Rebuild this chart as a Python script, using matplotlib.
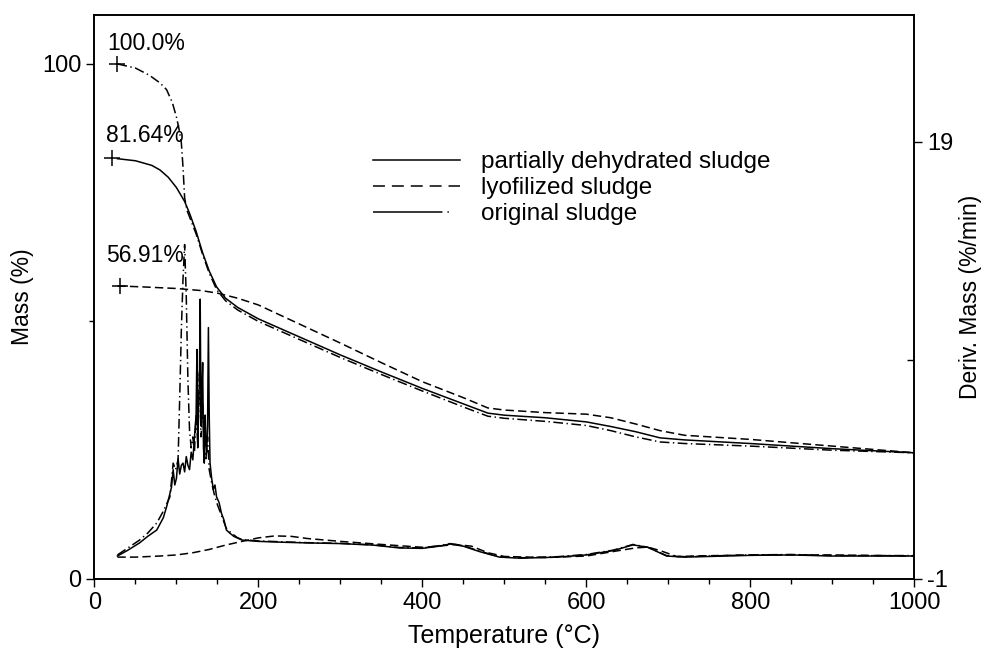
import matplotlib
matplotlib.use("Agg")
import matplotlib.pyplot as plt
from matplotlib.lines import Line2D
from matplotlib.ticker import MultipleLocator, FixedLocator

plt.rcParams["font.family"] = ["Liberation Sans", "DejaVu Sans"]
plt.rcParams["font.size"] = 16.5
plt.rcParams["lines.scale_dashes"] = False
plt.rcParams["axes.unicode_minus"] = False

# --- mass curves (left axis, %) ---
t_partial = [28, 50, 70, 80, 90, 100, 110, 116, 124, 132, 140, 149, 160, 175, 200, 250,
             300, 350, 400, 450, 480, 500, 550, 600, 630, 660, 690, 720, 800, 900, 1000]
m_partial = [81.6, 81.2, 80.3, 79.4, 78.0, 76.0, 73.3, 71.0, 67.5, 63.3, 59.8, 56.7, 54.5, 52.7, 50.5, 47.0,
             43.5, 40.2, 37.0, 34.0, 32.2, 31.8, 31.3, 30.5, 29.6, 28.6, 27.4, 27.0, 26.3, 25.3, 24.5]

t_lyo = [28, 60, 100, 130, 150, 175, 200, 250, 300, 350, 400, 450, 480, 500, 550, 600,
         630, 660, 690, 720, 800, 900, 1000]
m_lyo = [56.9, 56.7, 56.4, 56.0, 55.5, 54.5, 53.2, 49.5, 45.8, 42.0, 38.3, 35.2, 33.2, 32.8, 32.3, 32.0,
         31.3, 30.1, 28.8, 27.9, 27.1, 25.8, 24.5]

t_orig = [28, 50, 67, 80, 88, 95, 100, 103, 106, 108, 110, 113, 116, 124, 132, 140, 149, 160, 175, 200,
          250, 300, 350, 400, 450, 480, 500, 550, 600, 630, 660, 690, 720, 800, 900, 1000]
m_orig = [100.0, 99.2, 97.8, 96.3, 95.0, 92.5, 89.7, 87.5, 84.7, 80.0, 74.0, 71.5, 70.3, 67.0, 63.0, 59.4,
          56.2, 54.0, 52.2, 50.0, 46.5, 43.0, 39.7, 36.5, 33.4, 31.6, 31.2, 30.6, 29.8, 28.8, 27.6, 26.6,
          26.3, 25.8, 25.0, 24.5]

# --- derivative curves (right axis, %/min) ---
td_partial = [28, 40, 55, 65, 76, 84, 88, 92, 94, 96, 98, 100, 102, 104, 106, 108, 110, 112, 114, 116,
              118, 120, 122, 124, 125, 126, 127, 128, 129, 130, 131, 132, 133, 134, 135, 136, 137, 138,
              139, 140, 141, 143, 145, 147, 149, 152, 155, 158, 161, 165, 170, 174, 180, 200, 230, 260,
              300, 340, 372, 400, 420, 434, 450, 470, 494, 520, 565, 600, 633, 657, 675, 698, 720, 800,
              850, 900, 950, 1000]
d_partial = [0.05, 0.3, 0.65, 0.95, 1.24, 1.8, 2.3, 2.9, 3.2, 4.0, 3.3, 3.6, 4.5, 3.8, 4.2, 4.3, 3.9, 4.6,
             4.2, 4.0, 4.8, 4.45, 5.5, 6.5, 9.5, 5.0, 7.0, 8.0, 11.8, 6.0, 7.5, 8.9, 5.0, 4.3, 6.5, 5.2,
             4.8, 6.0, 10.5, 6.5, 4.3, 3.6, 3.1, 3.3, 2.75, 2.5, 2.0, 1.7, 1.24, 1.1, 0.95, 0.88, 0.78,
             0.72, 0.68, 0.65, 0.62, 0.55, 0.42, 0.40, 0.5, 0.6, 0.5, 0.25, 0.0, -0.05, 0.0, 0.1, 0.3,
             0.56, 0.45, 0.05, 0.0, 0.08, 0.1, 0.05, 0.05, 0.05]

td_orig = [28, 40, 55, 65, 76, 84, 92, 94, 96, 99, 102, 104, 106, 108, 110, 112, 114, 116, 118, 120,
           122, 124, 126, 128, 130, 132, 134, 136, 138, 140, 143, 146, 150, 155, 161, 167, 174, 180,
           200, 230, 260, 300, 340, 372, 400, 420, 434, 450, 470, 494, 520, 565, 600, 633, 657, 675,
           698, 720, 800, 850, 900, 950, 1000]
d_orig = [0.1, 0.4, 0.78, 1.1, 1.56, 2.1, 2.75, 3.5, 4.3, 4.0, 4.45, 7.3, 10.4, 12.7, 14.3, 11.9, 8.1,
          5.8, 5.0, 5.5, 4.8, 6.5, 5.2, 8.5, 5.5, 7.0, 5.0, 4.5, 5.5, 4.0, 3.4, 2.9, 2.4, 1.9, 1.3, 1.1,
          0.9, 0.8, 0.74, 0.7, 0.66, 0.63, 0.56, 0.44, 0.42, 0.52, 0.62, 0.52, 0.27, 0.02, -0.03, 0.02,
          0.12, 0.32, 0.58, 0.45, 0.07, 0.02, 0.1, 0.12, 0.07, 0.07, 0.07]

td_lyo = [28, 50, 80, 100, 120, 140, 160, 180, 200, 220, 240, 260, 300, 350, 400, 420, 440, 460, 480,
          500, 550, 600, 640, 660, 675, 690, 711, 730, 800, 900, 1000]
d_lyo = [0.0, 0.0, 0.05, 0.1, 0.2, 0.35, 0.55, 0.72, 0.88, 0.97, 0.95, 0.85, 0.72, 0.58, 0.45, 0.5, 0.58,
         0.5, 0.2, 0.03, -0.02, 0.05, 0.3, 0.42, 0.46, 0.3, 0.02, 0.05, 0.1, 0.1, 0.05]

start_labels = ["100.0%", "81.64%", "56.91%"]
start_t = [28, 22, 31]
start_m = [100.0, 81.64, 56.91]
label_t = [15, 14, 14]
label_m = [102.7, 84.9, 61.6]

names = ["partially dehydrated sludge", "lyofilized sludge", "original sludge"]

fig = plt.figure(figsize=(9.84, 6.52), dpi=100)
ax = fig.add_axes([0.096, 0.112, 0.833, 0.865])
ax2 = ax.twinx()

lw = 1.1
dash = (6, 3)
dashdot = (7, 2.5, 1, 2.5)

ax.plot(t_partial, m_partial, color="black", lw=lw)
ax.plot(t_lyo, m_lyo, color="black", lw=lw, dashes=dash)
ax.plot(t_orig, m_orig, color="black", lw=lw, dashes=dashdot)
ax.plot(start_t, start_m, "k+", ms=12, mew=1.1, ls="none")
for s, x, y in zip(start_labels, label_t, label_m):
    ax.text(x, y, s, ha="left", va="baseline", fontsize=16.5)

ax2.plot(td_partial, d_partial, color="black", lw=lw)
ax2.plot(td_lyo, d_lyo, color="black", lw=lw, dashes=dash)
ax2.plot(td_orig, d_orig, color="black", lw=lw, dashes=dashdot)

ax.set_xlim(0, 1000)
ax.set_ylim(0, 109.5)
ax2.set_ylim(-1, 24.8)

ax.xaxis.set_major_locator(MultipleLocator(200))
ax.xaxis.set_minor_locator(MultipleLocator(50))
ax.yaxis.set_major_locator(FixedLocator([0, 100]))
ax.yaxis.set_minor_locator(FixedLocator([50]))
ax2.yaxis.set_major_locator(FixedLocator([-1, 19]))
ax2.yaxis.set_minor_locator(FixedLocator([9]))

ax.tick_params(which="major", direction="out", length=6, width=1, labelsize=17)
ax.tick_params(which="minor", direction="out", length=3.5, width=1)
ax2.tick_params(which="major", direction="out", length=6, width=1, labelsize=17)
ax2.tick_params(which="minor", direction="in", length=5, width=1)
for a in (ax, ax2):
    for sp in a.spines.values():
        sp.set_linewidth(1.2)

ax.set_xlabel("Temperature (°C)", fontsize=18, labelpad=7)
ax.set_ylabel("Mass (%)", fontsize=16.5, labelpad=6)
ax2.set_ylabel("Deriv. Mass (%/min)", fontsize=16.5, labelpad=4)

handles = [
    Line2D([], [], color="black", lw=lw),
    Line2D([], [], color="black", lw=lw, dashes=(8.6, 5)),
    Line2D([], [], color="black", lw=lw, dashes=(50, 3.6, 1, 40)),
]
ax2.legend(handles, names, loc="upper left", bbox_to_anchor=(0.379, 0.768),
           bbox_transform=fig.transFigure, frameon=False, fontsize=17.5,
           handlelength=3.6, handletextpad=0.85, labelspacing=0.16,
           borderpad=0, borderaxespad=0)

fig.savefig("out.png", dpi=100)
